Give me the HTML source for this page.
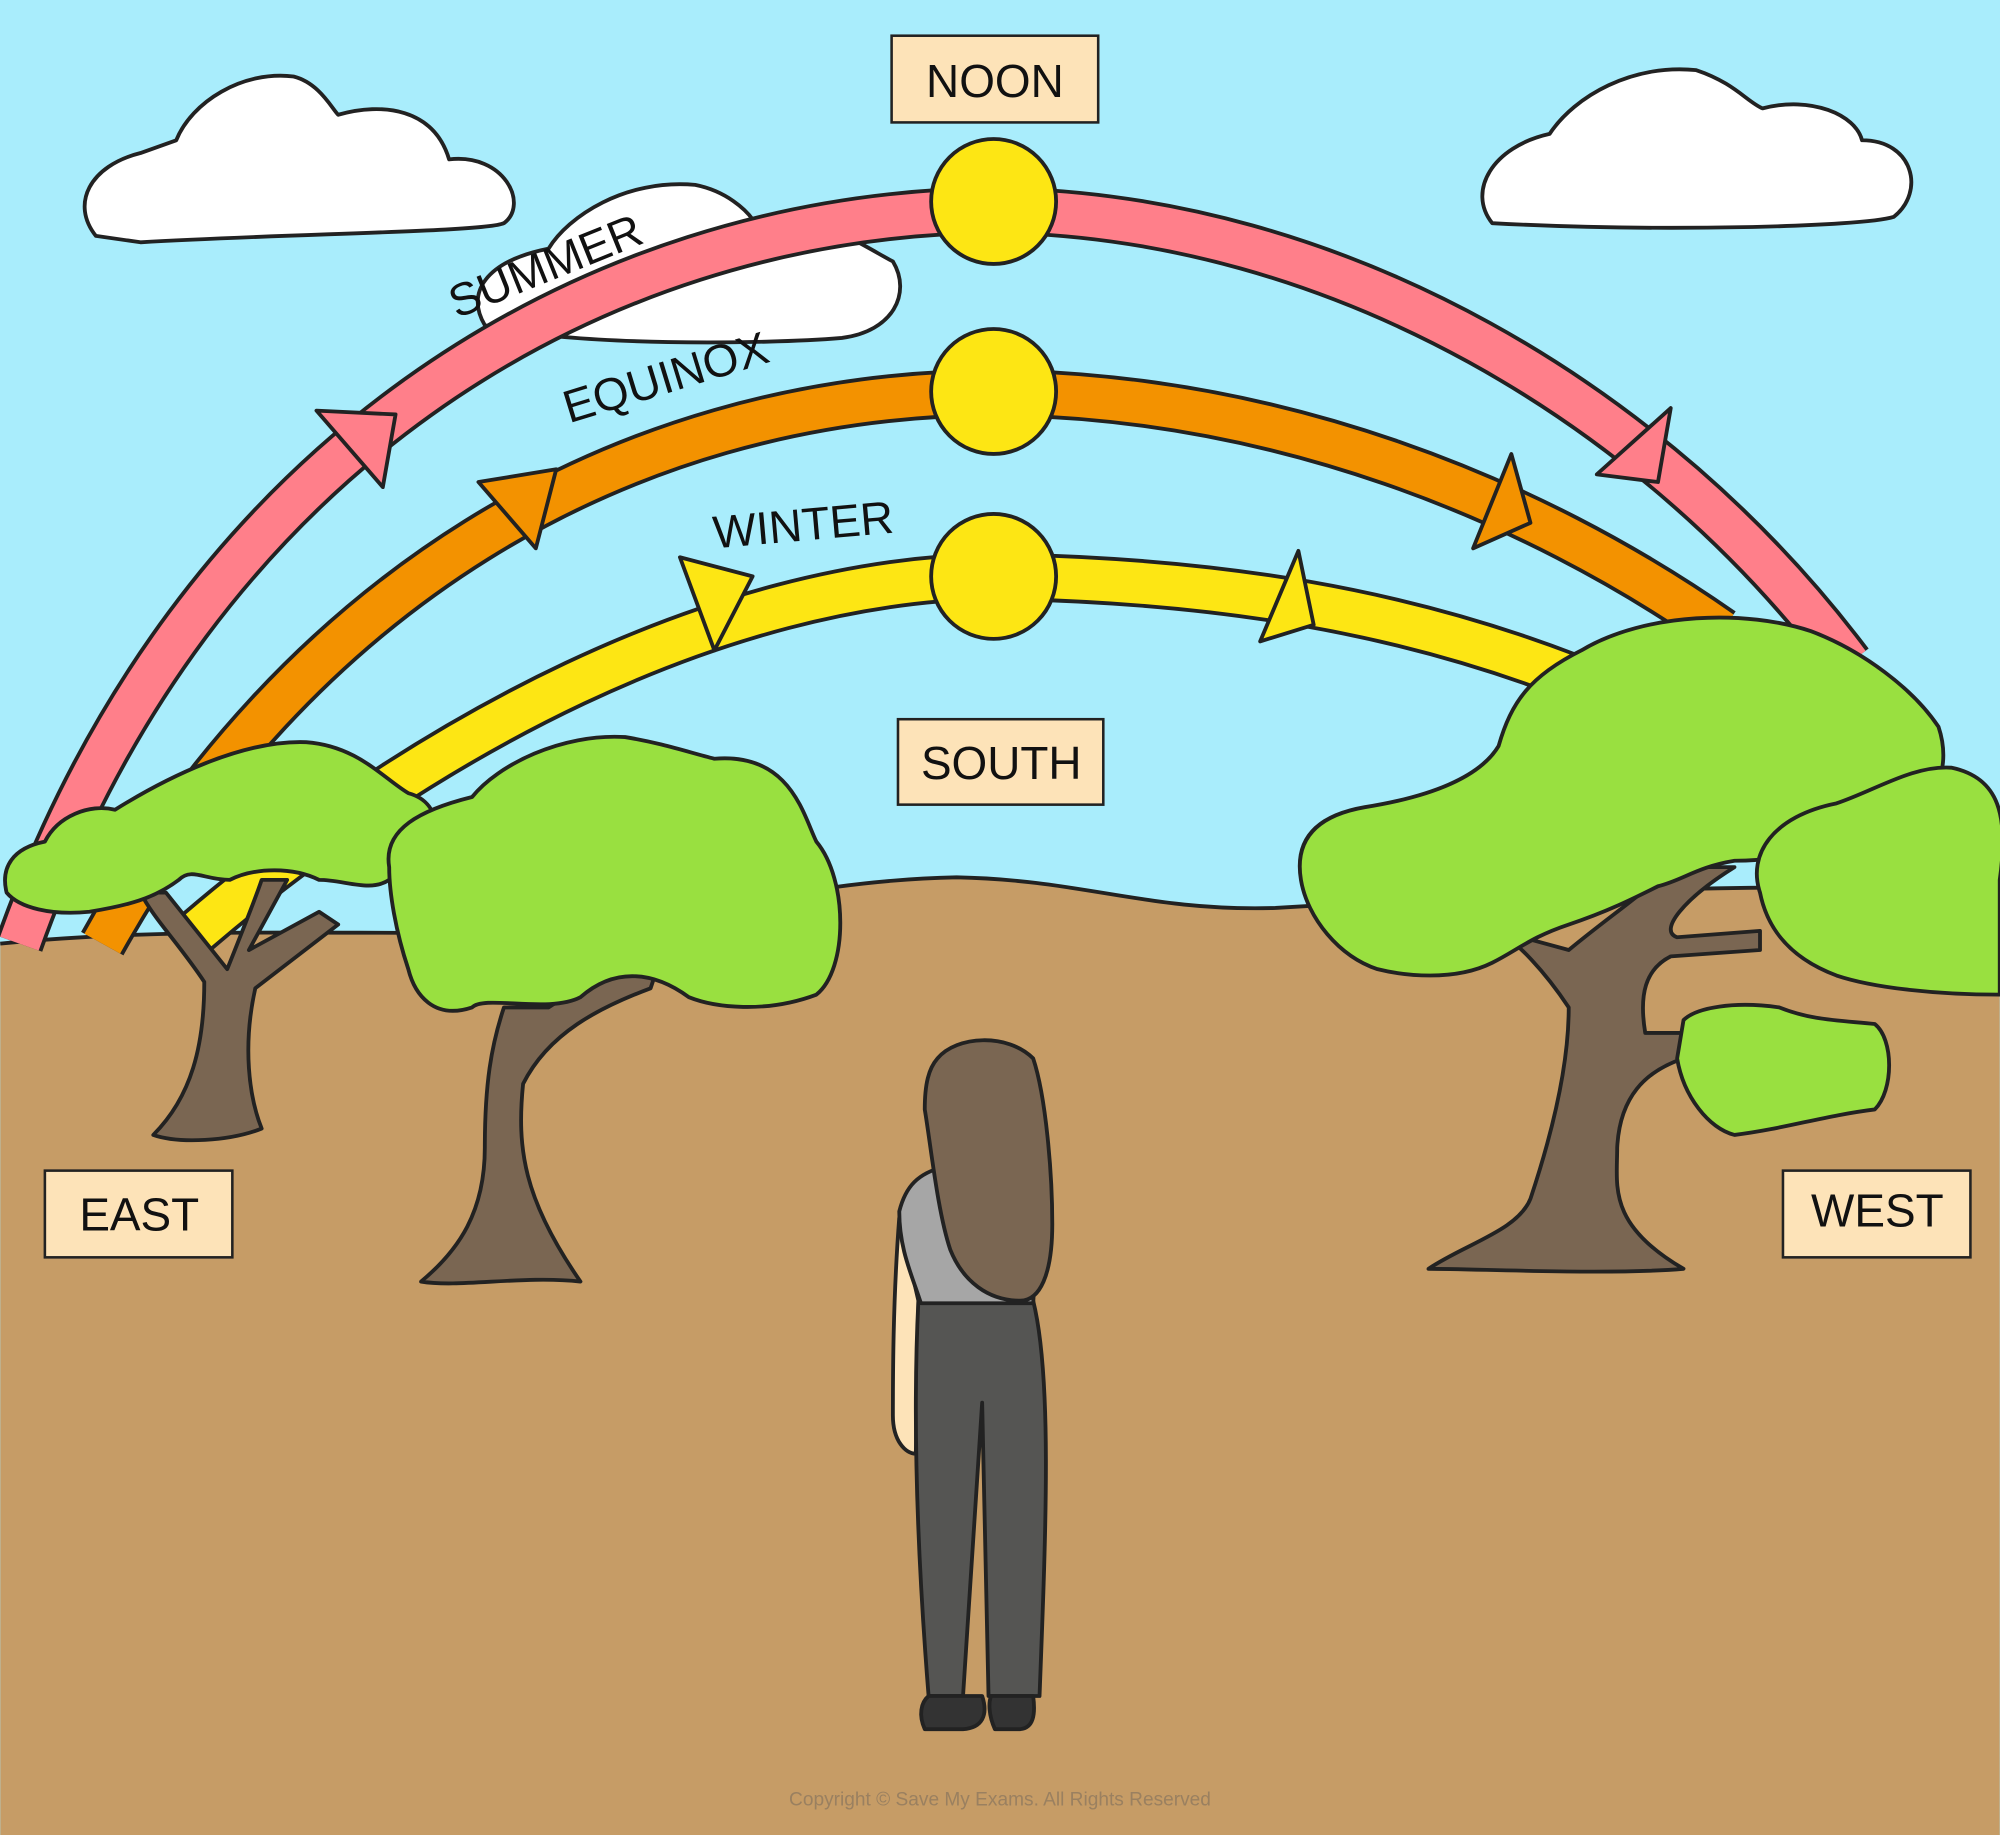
<!DOCTYPE html>
<html><head><meta charset="utf-8"><style>
html,body{margin:0;padding:0;background:#A9EDFC;}
svg{display:block}
text{font-family:"Liberation Sans",sans-serif;}
</style></head><body>
<svg width="2000" height="1835" viewBox="0 0 1568 1439" xmlns="http://www.w3.org/2000/svg">
<rect width="1568" height="1439" fill="#A9EDFC"/>
<g stroke="#222" stroke-width="3" fill="#fff" stroke-linejoin="round">
<path d="M75,185 C55,160 70,130 110,120 L138,110 C150,80 190,55 230,60 C250,65 260,85 265,90 C300,80 340,85 352,125 C395,120 415,160 395,175 C380,182 230,183 110,190 Z"/>
<path d="M1170,175 C1150,150 1170,115 1215,105 C1235,75 1280,50 1330,55 C1360,65 1370,80 1382,85 C1420,75 1455,90 1460,110 C1500,110 1510,150 1485,170 C1460,178 1300,182 1170,175 Z"/>
<path d="M380,255 C365,230 380,205 430,195 C445,170 490,140 545,145 C570,150 585,165 590,172 C640,165 680,195 700,205 C715,230 700,260 660,265 C600,270 450,272 380,255 Z"/>
</g>
<!-- ground -->
<path d="M0,740 C150,725 300,735 450,730 C580,710 650,690 750,688 C850,690 900,715 1000,712 C1200,700 1400,690 1568,700 L1568,1439 L0,1439 Z" fill="#C69C66"/>
<path d="M0,740 C150,725 300,735 450,730 C580,710 650,690 750,688 C850,690 900,715 1000,712 C1200,700 1400,690 1568,700" fill="none" stroke="#222" stroke-width="3"/>
<!-- arcs -->
<g fill="none" stroke-linecap="butt">
<path d="M15,740 C150,360 460,168 779,165 C1050,168 1300,320 1450,520" stroke="#222" stroke-width="38"/>
<path d="M15,740 C150,360 460,168 779,165 C1050,168 1300,320 1450,520" stroke="#FF7F8A" stroke-width="32"/>
<path d="M80,740 C230,470 480,310 779,308 C1000,310 1200,390 1350,495" stroke="#222" stroke-width="38"/>
<path d="M80,740 C230,470 480,310 779,308 C1000,310 1200,390 1350,495" stroke="#F39200" stroke-width="32"/>
<path d="M155,730 C330,580 560,455 779,452 C960,455 1100,480 1230,530" stroke="#222" stroke-width="38"/>
<path d="M155,730 C330,580 560,455 779,452 C960,455 1100,480 1230,530" stroke="#FDE614" stroke-width="32"/>
</g>
<!-- arrowheads -->
<g stroke="#222" stroke-width="3" stroke-linejoin="round">
<polygon points="248,322 310,325 300,382" fill="#FF7F8A"/>
<polygon points="375,378 436,368 420,430" fill="#F39200"/>
<polygon points="533,437 590,452 560,510" fill="#FDE614"/>
<polygon points="1252,372 1310,320 1300,378" fill="#FF7F8A"/>
<polygon points="1155,430 1185,356 1200,410" fill="#F39200"/>
<polygon points="988,503 1018,432 1030,490" fill="#FDE614"/>
</g>
<!-- suns -->
<g fill="#FDE614" stroke="#222" stroke-width="3">
<circle cx="779" cy="158" r="49"/><circle cx="779" cy="307" r="49"/><circle cx="779" cy="452" r="49"/>
</g>
<!-- labels -->
<text x="0" y="0" font-size="36" transform="translate(358,250) rotate(-22)" fill="#111">SUMMER</text>
<text x="0" y="0" font-size="36" transform="translate(446,332) rotate(-17)" fill="#111">EQUINOX</text>
<text x="0" y="0" font-size="36" transform="translate(560,430) rotate(-5)" fill="#111">WINTER</text>
<!-- trees -->
<g stroke="#222" stroke-width="3" stroke-linejoin="round">
<path d="M120,890 C150,860 160,820 160,770 C140,740 120,720 110,700 L130,700 L178,760 C190,730 200,705 205,690 L225,690 L195,745 L250,715 L265,725 L200,775 C190,820 195,860 205,885 C180,895 140,897 120,890 Z" fill="#7A6652"/>
<path d="M5,700 C0,680 10,665 35,660 C45,640 70,630 90,635 C130,610 190,580 240,582 C280,585 300,610 320,622 C350,630 345,665 330,690 L305,690 C290,700 270,690 250,690 C230,680 200,680 180,690 C160,690 150,680 140,690 C120,705 100,710 70,715 C40,718 15,712 5,700 Z" fill="#99E040"/>
<path d="M330,1005 C360,980 380,950 380,900 C380,850 385,820 395,790 L430,790 C460,770 490,760 515,760 L510,775 C470,790 430,810 410,850 C405,900 410,940 455,1005 C410,1000 360,1010 330,1005 Z" fill="#7A6652"/>
<path d="M305,680 C300,650 330,635 370,625 C390,600 440,575 490,578 C520,583 540,590 560,595 C620,590 630,640 640,660 C665,690 665,760 640,780 C600,795 560,790 540,782 C510,760 480,760 455,782 C430,795 380,780 370,790 C340,800 325,780 320,760 C310,730 305,700 305,680 Z" fill="#99E040"/>
<path d="M1120,995 C1150,975 1190,965 1200,940 C1220,880 1230,830 1230,790 C1210,760 1190,740 1175,730 L1230,745 C1260,720 1290,700 1310,680 L1360,680 C1320,705 1300,730 1315,735 L1380,730 L1380,745 L1310,750 C1290,760 1285,780 1290,810 L1320,810 L1320,830 C1290,840 1270,860 1268,900 C1268,930 1260,960 1320,995 C1260,1000 1160,995 1120,995 Z" fill="#7A6652"/>
<path d="M1020,690 C1015,660 1030,640 1070,633 C1120,625 1160,610 1175,585 C1185,550 1200,530 1240,510 C1290,480 1370,478 1420,495 C1460,510 1500,540 1520,570 C1530,600 1520,630 1490,640 C1440,660 1410,675 1360,675 C1330,680 1320,690 1300,695 C1280,705 1260,715 1230,725 C1200,735 1190,745 1170,755 C1140,770 1100,765 1080,760 C1050,750 1025,720 1020,690 Z" fill="#99E040"/>
<path d="M1380,700 C1370,670 1390,640 1440,630 C1470,620 1500,600 1530,602 C1568,610 1575,640 1568,690 L1568,780 C1520,780 1470,775 1440,765 C1400,750 1385,725 1380,700 Z" fill="#99E040"/>
<path d="M1320,800 C1330,790 1360,785 1395,790 C1420,800 1440,800 1470,803 C1485,815 1485,855 1470,870 C1430,875 1400,885 1360,890 C1340,885 1320,860 1315,830 Z" fill="#99E040"/>
</g>
<!-- person -->
<g stroke="#222" stroke-width="3" stroke-linejoin="round">
<path d="M705,955 C700,1020 700,1080 700,1110 C700,1130 710,1140 718,1140 L720,1020 Z" fill="#FDE3B8"/>
<path d="M720,1020 L810,1020 C825,1080 820,1200 815,1330 L775,1330 L770,1100 L755,1330 L728,1330 C720,1230 715,1120 720,1020 Z" fill="#555553"/>
<path d="M728,1330 L770,1330 C775,1345 770,1355 755,1356 L725,1356 C720,1345 722,1335 728,1330 Z" fill="#333"/>
<path d="M777,1330 L810,1330 C812,1345 810,1355 800,1356 L780,1356 C775,1345 775,1335 777,1330 Z" fill="#333"/>
<path d="M705,950 C710,930 720,920 740,915 L790,920 C805,960 812,1000 810,1022 L722,1022 C715,1000 705,980 705,950 Z" fill="#A6A6A6"/>
<path d="M735,830 C750,812 790,810 810,830 C820,860 825,920 825,960 C825,1000 815,1020 800,1020 C775,1020 755,1005 745,980 C735,950 730,900 725,870 C725,850 728,838 735,830 Z" fill="#7A6652"/>
</g>
<!-- boxes -->
<g fill="#FDE3B8" stroke="#222" stroke-width="2">
<rect x="699" y="28" width="162" height="68"/>
<rect x="704" y="564" width="161" height="67"/>
<rect x="35" y="918" width="147" height="68"/>
<rect x="1398" y="918" width="147" height="68"/>
</g>
<g font-size="36" fill="#111" text-anchor="middle">
<text x="780" y="76">NOON</text>
<text x="785" y="611">SOUTH</text>
<text x="109" y="965">EAST</text>
<text x="1472" y="962">WEST</text>
</g>
<text x="784" y="1416" font-size="15" fill="#9a8060" text-anchor="middle">Copyright © Save My Exams. All Rights Reserved</text>
</svg>
</body></html>
